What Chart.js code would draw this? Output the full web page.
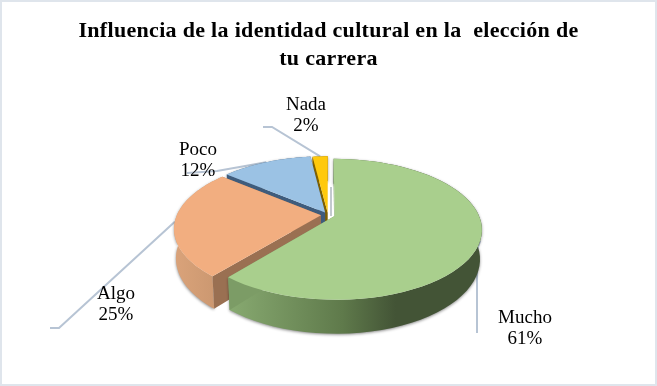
<!DOCTYPE html>
<html>
<head>
<meta charset="utf-8">
<style>
  html, body { margin: 0; padding: 0; background: #fff; }
  canvas { display: block; }
</style>
<script src="https://cdn.jsdelivr.net/npm/chart.js@4"></script>
</head>
<body>
<canvas id="grafico" width="657" height="386"></canvas>
<script>
const categorias = ['Mucho', 'Algo', 'Poco', 'Nada'];
const valores = [61, 25, 12, 2];
const titulo = ['Influencia de la identidad cultural en la  elección de', 'tu carrera'];

const coloresCara = ['#A9CF8D', '#F2AE80', '#9BC2E4', '#FFC90C'];
const coloresCorte = ['#7C9C66', '#9A7052', '#3F5C7C', '#7F6000'];
const coloresPared = [
    [[0, '#88AA71'], [0.45, '#5F7A4B'], [0.66, '#435436'], [1, '#435436']],
    [[0, '#DAA37A'], [1, '#C9966F']],
    [[0, '#5E7F9E'], [1, '#3F5C7C']],
    [[0, '#B38600'], [1, '#7F6000']]
];

// perspectiva del pastel: centro, radios, fuga y altura
const vista = { x: 328, y: 215, rx: 144, ry: 67.6, fuga: 0.186, alto: 29, fugaAlto: 0.012 };

// etiquetas (centro del texto) y codo de cada linea guia
const etiquetas = [
    { x: 525, y: 318, codo: [[477, 250], [477, 333]] },
    { x: 116, y: 294, codo: [[59, 328], [50, 328]] },
    { x: 198, y: 150, codo: [[217, 171], [187, 173]] },
    { x: 306, y: 105, codo: [[272, 127], [263, 127]] }
];

function proyectar(u, v, z) {
    const w = 1 + vista.fuga * v + vista.fugaAlto * z;
    return [vista.x + vista.rx * u / w, vista.y + (-vista.ry * v + vista.alto * z) / w];
}

function desplazamiento(arco) {
    const medio = (arco.startAngle + arco.endAngle) / 2;
    const d = (arco.options.offset || 0) / arco.outerRadius;
    return [Math.cos(medio) * d, -Math.sin(medio) * d];
}

function puntosBorde(arco, z, invertir) {
    const [du, dv] = desplazamiento(arco);
    const pasos = 60;
    const puntos = [];
    for (let i = 0; i <= pasos; i++) {
        const a = arco.startAngle + (arco.endAngle - arco.startAngle) * i / pasos;
        puntos.push(proyectar(Math.cos(a) + du, -Math.sin(a) + dv, z));
    }
    return invertir ? puntos.reverse() : puntos;
}

function rellenar(ctx, puntos, color) {
    ctx.beginPath();
    puntos.forEach((p, i) => i ? ctx.lineTo(p[0], p[1]) : ctx.moveTo(p[0], p[1]));
    ctx.closePath();
    ctx.fillStyle = color;
    ctx.fill();
}

function dibujarGuias(ctx, arcos) {
    ctx.strokeStyle = '#B7C4D4';
    ctx.lineWidth = 2;
    arcos.forEach((arco, i) => {
        const [du, dv] = desplazamiento(arco);
        const medio = (arco.startAngle + arco.endAngle) / 2;
        const inicio = proyectar(Math.cos(medio) + du, -Math.sin(medio) + dv, 0);
        ctx.beginPath();
        ctx.moveTo(inicio[0], inicio[1]);
        etiquetas[i].codo.forEach(p => ctx.lineTo(p[0], p[1]));
        ctx.stroke();
    });
}

function dibujarPorcion(ctx, arco, i) {
    const [du, dv] = desplazamiento(arco);
    const arriba = puntosBorde(arco, 0, false);
    const abajo = puntosBorde(arco, 1, true);
    const apice = proyectar(du, dv, 0);
    const apiceAbajo = proyectar(du, dv, 1);
    const ultimo = arriba.length - 1;

    // pared exterior, con su sombra
    const xs = arriba.map(p => p[0]);
    const x0 = Math.min(...xs);
    const x1 = Math.max(...xs);
    const degradado = ctx.createLinearGradient(x0, 0, x1, 0);
    coloresPared[i].forEach(c => degradado.addColorStop(c[0], c[1]));
    ctx.save();
    ctx.shadowColor = 'rgba(0,0,0,0.45)';
    ctx.shadowBlur = 3;
    ctx.shadowOffsetY = 1;
    rellenar(ctx, arriba.concat(abajo), degradado);
    ctx.restore();

    // cortes radiales
    rellenar(ctx, [apice, arriba[0], abajo[ultimo], apiceAbajo], coloresCorte[i]);
    rellenar(ctx, [apice, arriba[ultimo], abajo[0], apiceAbajo], coloresCorte[i]);

    // cara superior
    rellenar(ctx, [apice].concat(arriba), arco.options.backgroundColor);
}

const pastel3d = {
    id: 'pastel3d',
    beforeDraw(chart) {
        const ctx = chart.ctx;
        ctx.fillStyle = '#fff';
        ctx.fillRect(0, 0, chart.width, chart.height);
        ctx.strokeStyle = '#DFE5EC';
        ctx.lineWidth = 2;
        ctx.strokeRect(1, 1, chart.width - 2, chart.height - 2);
        // el titulo del original va algo espaciado
        ctx.letterSpacing = '0.31px';
    },
    beforeDatasetsDraw(chart) {
        const ctx = chart.ctx;
        const arcos = chart.getDatasetMeta(0).data;
        ctx.letterSpacing = '0px';
        ctx.save();
        dibujarGuias(ctx, arcos);
        // de atras hacia adelante
        for (let i = arcos.length - 1; i >= 0; i--) {
            dibujarPorcion(ctx, arcos[i], i);
        }
        // linea guia que asoma entre Nada y Mucho
        ctx.strokeStyle = '#C3C9CF';
        ctx.lineWidth = 2;
        ctx.beginPath();
        ctx.moveTo(331, 187);
        ctx.lineTo(331, 216);
        ctx.stroke();
        ctx.fillStyle = '#000';
        ctx.font = '19px "Liberation Serif"';
        ctx.textAlign = 'center';
        ctx.textBaseline = 'middle';
        arcos.forEach((arco, i) => {
            ctx.fillText(categorias[i], etiquetas[i].x, etiquetas[i].y);
            ctx.fillText(valores[i] + '%', etiquetas[i].x, etiquetas[i].y + 21);
        });
        ctx.restore();
        return false;
    }
};

new Chart(document.getElementById('grafico'), {
    type: 'pie',
    data: {
        labels: categorias,
        datasets: [
            {
                data: valores,
                backgroundColor: coloresCara,
                borderWidth: 0,
                offset: [7, 7, 6, 5]
            }
        ]
    },
    options: {
        responsive: false,
        animation: false,
        layout: { padding: { top: 18, bottom: 10, left: 10, right: 10 } },
        plugins: {
            legend: { display: false },
            tooltip: { enabled: false },
            title: {
                display: true,
                text: titulo,
                color: '#000',
                font: { family: '"Liberation Serif"', size: 22, weight: 'bold', lineHeight: 1.25 },
                padding: { top: 0, bottom: 10 }
            }
        }
    },
    plugins: [pastel3d]
});
</script>
</body>
</html>
